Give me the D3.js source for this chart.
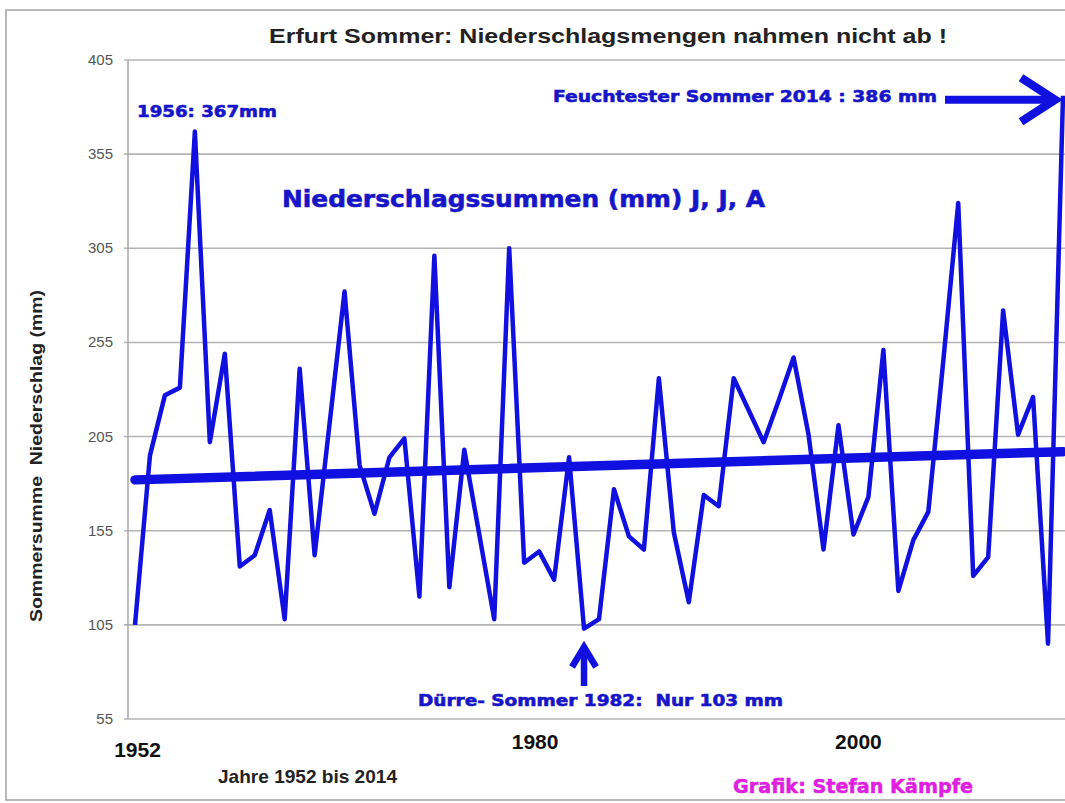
<!DOCTYPE html>
<html>
<head>
<meta charset="utf-8">
<script src="https://cdn.jsdelivr.net/npm/d3@7"></script>
<style>
  html, body { margin: 0; padding: 0; background: #fff; }
  svg { display: block; }
  text { white-space: pre; }
</style>
</head>
<body>
<svg id="chart" width="1065" height="803"></svg>
<script>
// ---- data ----
const years = d3.range(1952, 2015);
const rainfall = [
  105, 195, 227, 231, 367, 202, 249, 136, 142, 166,
  108, 241, 142, 212, 282, 190, 164, 194, 204, 120,
  301, 125, 198, 153, 108, 305, 138, 144, 129, 194,
  103, 108, 177, 152, 145, 236, 154, 117, 174, 168,
  236, 219, 202, 224, 247, 206, 145, 211, 153, 173,
  251, 123, 150, 165, 245, 329, 131, 141, 272, 206,
  226, 95, 386
];
const trendYears = [1952, 2014];
const trendValues = [182, 197];
const yTicks = [55, 105, 155, 205, 255, 305, 355, 405];
const xTickYears = [1952, 1980, 2000];

const svg = d3.select("#chart");
const blue = "#1010e0";
const textBlue = "#1616c8";

// outer frame
svg.append("rect").attr("x", 6).attr("y", 10).attr("width", 1080).attr("height", 790)
  .attr("fill", "#fff").attr("stroke", "#a0a0a0").attr("stroke-width", 1.5);

const x = d3.scaleLinear().domain([1952, 2014]).range([135, 1063]);
const y = d3.scaleLinear().domain([55, 405]).range([719, 60]);

// gridlines
svg.append("g").selectAll("line").data(yTicks).join("line")
  .attr("x1", 124).attr("x2", 1065)
  .attr("y1", d => y(d)).attr("y2", d => y(d))
  .attr("stroke", "#b4b4b4").attr("stroke-width", 1.6);

// y axis line
svg.append("line").attr("x1", 128).attr("x2", 128).attr("y1", y(405)).attr("y2", y(55))
  .attr("stroke", "#a8a8a8").attr("stroke-width", 1.5);

// y tick labels
svg.append("g").selectAll("text").data(yTicks).join("text")
  .attr("x", 113).attr("y", d => y(d) + 5)
  .attr("text-anchor", "end")
  .attr("font-family", "Liberation Sans, Arial, sans-serif")
  .attr("font-size", 15).attr("fill", "#555")
  .text(d => d);

// x tick labels (hand-placed in original)
const xLabelShift = {1952: [2.5, 757], 1980: [-19, 749], 2000: [5, 749]};
svg.append("g").selectAll("text").data(xTickYears).join("text")
  .attr("x", d => x(d) + xLabelShift[d][0]).attr("y", d => xLabelShift[d][1])
  .attr("text-anchor", "middle")
  .attr("font-family", "Liberation Sans, Arial, sans-serif")
  .attr("font-weight", "bold").attr("font-size", 21).attr("fill", "#111")
  .text(d => d);

// trend line
svg.append("path")
  .datum(trendYears.map((yr, i) => [yr, trendValues[i]]))
  .attr("d", d3.line().x(d => x(d[0])).y(d => y(d[1])))
  .attr("fill", "none").attr("stroke", blue).attr("stroke-width", 9.5)
  .attr("stroke-linecap", "round");

// data line
svg.append("path")
  .datum(years.map((yr, i) => [yr, rainfall[i]]))
  .attr("d", d3.line().x(d => x(d[0])).y(d => y(d[1])))
  .attr("fill", "none").attr("stroke", blue).attr("stroke-width", 4.5)
  .attr("stroke-linejoin", "round");

// title
svg.append("text").attr("x", 269).attr("y", 43)
  .attr("font-family", "Liberation Sans, Arial, sans-serif")
  .attr("font-weight", "bold").attr("font-size", 21).attr("fill", "#222")
  .attr("textLength", 678).attr("lengthAdjust", "spacingAndGlyphs")
  .text("Erfurt Sommer: Niederschlagsmengen nahmen nicht ab !");

// y axis title
svg.append("text")
  .attr("transform", "translate(42,456) rotate(-90)")
  .attr("text-anchor", "middle")
  .attr("font-family", "Liberation Sans, Arial, sans-serif")
  .attr("font-weight", "bold").attr("font-size", 16).attr("fill", "#222")
  .attr("textLength", 332).attr("lengthAdjust", "spacingAndGlyphs")
  .text("Sommersumme  Niederschlag (mm)");

// annotations
function blueText(txt, xx, yy, size, len) {
  svg.append("text").attr("x", xx).attr("y", yy)
    .attr("font-family", "DejaVu Sans, Liberation Sans, sans-serif")
    .attr("font-weight", "bold").attr("font-size", size).attr("fill", textBlue)
    .attr("stroke", textBlue).attr("stroke-width", 0.6)
    .attr("textLength", len).attr("lengthAdjust", "spacingAndGlyphs")
    .text(txt);
}
blueText("1956: 367mm", 137, 117, 16, 140);
blueText("Niederschlagssummen (mm) J, J, A", 282, 207, 23, 483);
blueText("Feuchtester Sommer 2014 : 386 mm", 553, 102, 16, 384);
blueText("Dürre- Sommer 1982:  Nur 103 mm", 418, 706, 16, 365);

// right arrow to 2014
const ay = y(386) + 4;
svg.append("line").attr("x1", 945).attr("x2", 1048).attr("y1", ay).attr("y2", ay)
  .attr("stroke", blue).attr("stroke-width", 8);
svg.append("polyline")
  .attr("points", `1021,${ay - 22} 1055,${ay} 1021,${ay + 22}`)
  .attr("fill", "none").attr("stroke", blue).attr("stroke-width", 8.5)
  .attr("stroke-linejoin", "miter");

// up arrow to 1982
const ux = x(1982);
svg.append("line").attr("x1", ux).attr("x2", ux).attr("y1", 647).attr("y2", 686)
  .attr("stroke", blue).attr("stroke-width", 6.5);
svg.append("polyline")
  .attr("points", `${ux - 12},${667} ${ux},${647} ${ux + 12},${667}`)
  .attr("fill", "none").attr("stroke", blue).attr("stroke-width", 6.5)
  .attr("stroke-linejoin", "miter");

// footer
svg.append("text").attr("x", 218).attr("y", 783)
  .attr("font-family", "Liberation Sans, Arial, sans-serif")
  .attr("font-weight", "bold").attr("font-size", 19).attr("fill", "#222")
  .attr("textLength", 179).attr("lengthAdjust", "spacingAndGlyphs")
  .text("Jahre 1952 bis 2014");
svg.append("text").attr("x", 733).attr("y", 793)
  .attr("font-family", "DejaVu Sans, Liberation Sans, sans-serif")
  .attr("font-weight", "bold").attr("font-size", 19).attr("fill", "#e020e0")
  .attr("stroke", "#e020e0").attr("stroke-width", 0.5)
  .attr("textLength", 240).attr("lengthAdjust", "spacingAndGlyphs")
  .text("Grafik: Stefan Kämpfe");
</script>
</body>
</html>
